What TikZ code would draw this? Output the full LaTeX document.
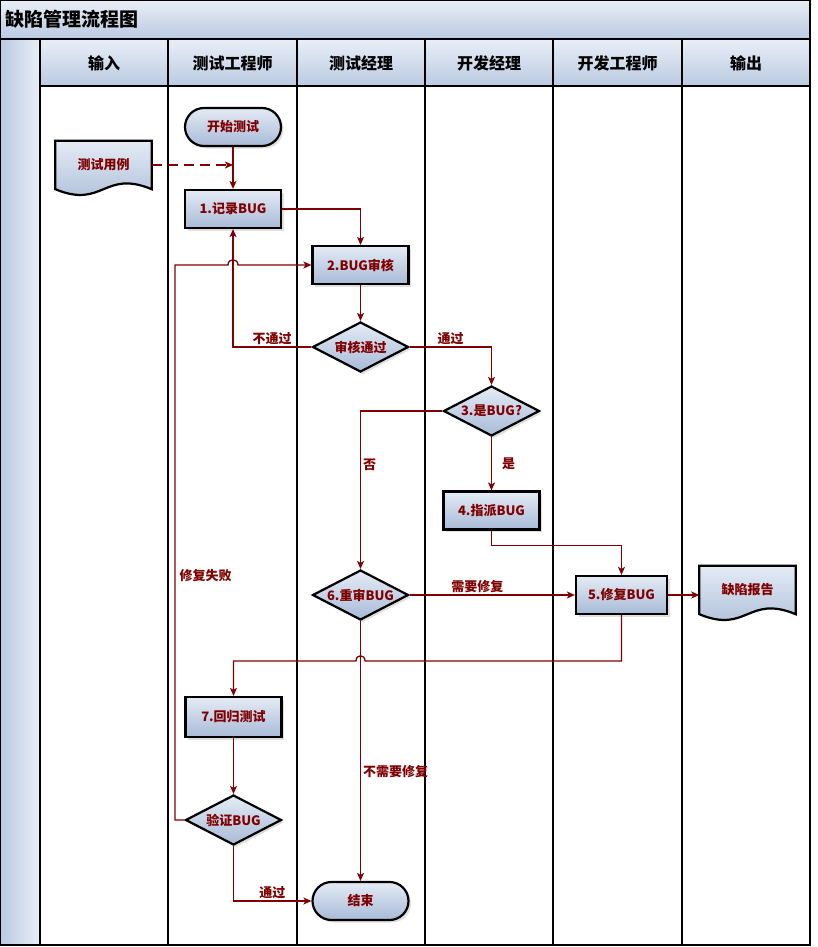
\documentclass[tikz,border=0pt]{standalone}
\usepackage{fontspec}
\setmainfont{Noto Sans CJK SC}
\usepackage{tikz}
\usetikzlibrary{shapes.geometric,arrows.meta,positioning,calc,shadows,backgrounds}

\definecolor{flowred}{RGB}{128,0,0}
\definecolor{boxtop}{RGB}{228,235,245}
\definecolor{boxbot}{RGB}{168,187,215}
\definecolor{headtop}{RGB}{232,238,246}
\definecolor{headbot}{RGB}{186,202,226}

\tikzset{
  box/.style={draw=black, line width=2.2pt, top color=boxtop, bottom color=boxbot,
    text=flowred, font=\fontsize{13}{15}\selectfont\bfseries, inner sep=2pt,
    drop shadow={shadow xshift=2.5pt, shadow yshift=-2.5pt, opacity=0.25}},
  process/.style={box, rectangle, minimum width=96pt, minimum height=38pt},
  terminal/.style={box, rectangle, rounded corners=19pt, minimum width=96pt, minimum height=38pt},
  decision/.style={box, diamond, aspect=2, inner sep=-1.5pt, minimum width=96pt, minimum height=50pt},
  docnode/.style={text=flowred, font=\fontsize{13}{15}\selectfont\bfseries,
    minimum width=96pt, minimum height=48pt, inner sep=0pt},
  flow/.style={draw=flowred, line width=1.3pt, -{Stealth[length=8pt,width=7pt,inset=2pt]}},
  lbl/.style={text=flowred, font=\fontsize{13}{15}\selectfont\bfseries, inner sep=2pt},
  headtext/.style={font=\fontsize{16}{18}\selectfont\bfseries},
  lane/.style={line width=2.5pt},
}

\begin{document}
\begin{tikzpicture}[x=1pt,y=-1pt]
  \useasboundingbox (0,0) rectangle (817,947);
  % 标题栏
  \shade[top color=headtop, bottom color=headbot] (0,0) rectangle (810,39);
  \node[anchor=west, font=\fontsize{19}{21}\selectfont\bfseries] (title) at (2,19) {缺陷管理流程图};
  % 左侧条
  \shade[left color=headbot, right color=headtop] (0,39) rectangle (40,945);
  % 泳道
  \foreach \lname/\xa/\xb [count=\i] in {输入/40/168, 测试工程师/168/297, 测试经理/297/425,
      开发经理/425/553, 开发工程师/553/682, 输出/682/810} {
    \shade[top color=headtop, bottom color=headbot] (\xa,40) rectangle (\xb,86);
    \node[headtext] (head\i) at ({(\xa+\xb)/2},63) {\lname};
  }
  \foreach \x in {40,168,297,425,553,682}
    \draw[lane] (\x,39) -- (\x,945);
  \draw[lane] (0,39) -- (810,39);
  \draw[lane] (40,86) -- (810,86);
  \draw[line width=2pt] (0,0) rectangle (810,945);

  % 节点
  \node[terminal] (start) at (233,127) {开始测试};
  \node[docnode] (cases) at (103.5,165) {测试用例};
  \node[process] (rec) at (233,209) {1.记录BUG};
  \node[process] (review) at (360.5,265) {2.BUG审核};
  \node[decision] (check) at (360.5,347) {审核通过};
  \node[decision] (isbug) at (491.5,411) {3.是BUG?};
  \node[process] (assign) at (491.5,510.5) {4.指派BUG};
  \node[decision] (recheck) at (360.5,595) {6.重审BUG};
  \node[process, minimum width=91pt] (fix) at (621.5,595) {5.修复BUG};
  \node[docnode] (report) at (747.5,590) {缺陷报告};
  \node[process, minimum height=40pt] (regress) at (233.5,717) {7.回归测试};
  \node[decision] (verify) at (233.5,820) {验证BUG};
  \node[terminal] (finish) at (360.5,901) {结束};

  % 文档形状
  \begin{scope}[on background layer]
    \foreach \docname in {cases,report}
      \draw[line width=2.2pt, top color=boxtop, bottom color=boxbot]
        (\docname.north west) -- (\docname.north east) -- (\docname.south east)
        .. controls ($(\docname.south east)+(-48,-20)$) and ($(\docname.south west)+(48,20)$)
        .. (\docname.south west) -- cycle;
  \end{scope}

  % 连线
  \draw[flow] (start) -- (rec);
  \draw[flow, line width=1.7pt, dash pattern=on 10pt off 6pt] (cases.east) -- (cases.east -| rec.north);
  \draw[flow] (rec.east) -| (review.north);
  \draw[flow] (review) -- (check);
  \draw[flow] (check.west) -| node[lbl, above, pos=0.25] {不通过} (rec.south);
  \draw[flow] (check.east) -| node[lbl, above, pos=0.25] {通过} (isbug.north);
  \draw[flow] (isbug.west) -| node[lbl, right, pos=0.67] {否} (recheck.north);
  \draw[flow] (isbug) -- node[lbl, right=8pt] {是} (assign);
  \draw[flow] (assign.south) -- ++(0,15) -| (fix.north);
  \draw[flow] (recheck) -- node[lbl, above, pos=0.41] {需要修复} (fix);
  \draw[flow] (fix.east) -- (fix.east -| report.west);
  \draw[flow] (fix.south) |- (365,661) .. controls (365,654) and (356,654) .. (356,661) -| (regress.north);
  \draw[flow] (recheck) -- node[lbl, right, pos=0.58] {不需要修复} (finish);
  \draw[flow] (regress) -- (verify);
  \draw[flow] (verify.west) -| node[lbl, right, pos=0.72, xshift=2pt] {修复失败} (175,265)
    -- (228,265) .. controls (228,258) and (238,258) .. (238,265) -- (review.west);
  \draw[flow] (verify.south) |- node[lbl, above, pos=0.75] {通过} (finish.west);
\end{tikzpicture}
\end{document}
